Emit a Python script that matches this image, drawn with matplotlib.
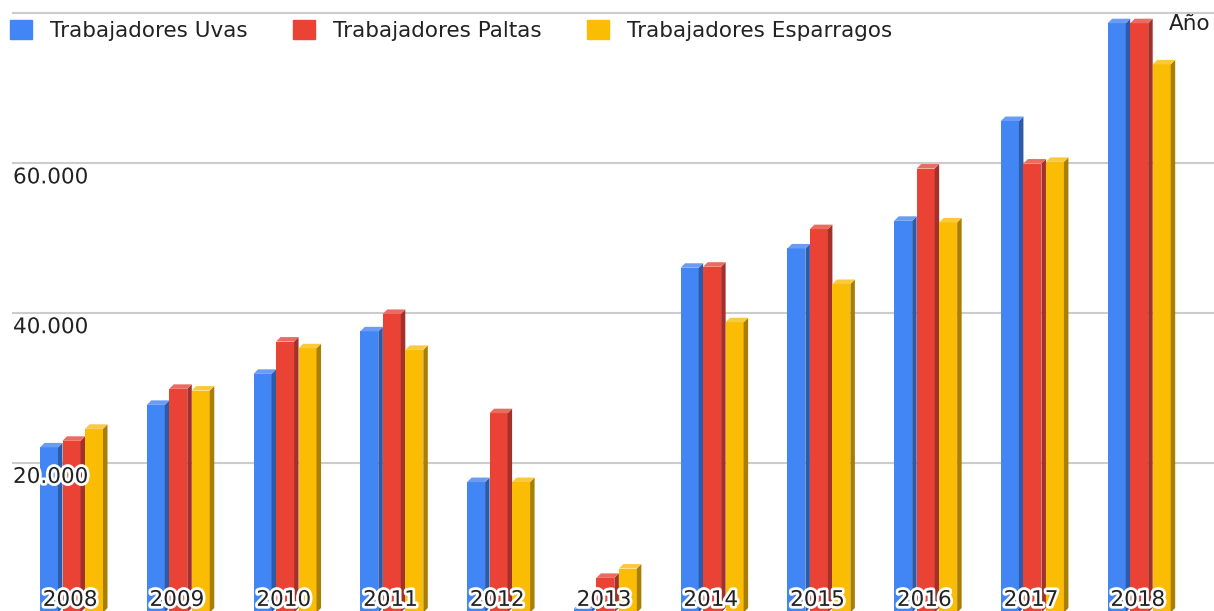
import matplotlib
matplotlib.use('Agg')
import matplotlib.pyplot as plt
from matplotlib.patches import Polygon, Patch
import matplotlib.patheffects as pe

# datos
years = ['2008', '2009', '2010', '2011', '2012', '2013', '2014', '2015', '2016', '2017', '2018']
uvas = [22050, 27730, 31870, 37550, 17420, 500, 46040, 48620, 52310, 65640, 78700]
paltas = [22930, 29870, 36180, 39870, 26620, 4620, 46180, 51200, 59290, 59960, 78700]
esparragos = [24530, 29640, 35290, 35070, 17420, 5870, 38760, 43870, 52090, 60180, 73200]
series_names = ['Trabajadores Uvas', 'Trabajadores Paltas', 'Trabajadores Esparragos']
y_ticks = [20000, 40000, 60000]
y_tick_labels = ['20.000', '40.000', '60.000']

front = ['#4285F4', '#EA4335', '#FBBC04']
side = ['#2E5BA8', '#A3302A', '#A87E05']
top = ['#6A9CF6', '#EE6A60', '#FCC93A']

FS = 15.5

fig = plt.figure(figsize=(12.14, 6.11), dpi=100)
ax = fig.add_axes([0, 0, 1, 1])
ax.set_xlim(-0.6697, 10.7006)
ax.set_ylim(200, 81800)
ax.axis('off')

px_x = 1 / 106.77       # one pixel in x data units
px_y = 81600 / 611      # one pixel in y data units
fw = 18 * px_x
step = 22.5 * px_x
dx = 4.5 * px_x
dy = 4.5 * px_y

# grid lines
for v in [20000, 40000, 60000, 80000]:
    ax.axhline(v, xmin=13 / 1214, xmax=1, color='#cccccc', lw=1.5, zorder=0)

for j, vals in enumerate([uvas, paltas, esparragos]):
    for i, v in enumerate(vals):
        x0 = i - 31.5 * px_x + j * step
        z = 2 + j
        ax.bar(x0, v, width=fw, align='edge', color=front[j], zorder=z, linewidth=0)
        ax.add_patch(Polygon([(x0 + fw, 0), (x0 + fw + dx, dy), (x0 + fw + dx, v + dy), (x0 + fw, v)],
                             closed=True, color=side[j], lw=0, zorder=z))
        ax.add_patch(Polygon([(x0, v), (x0 + dx, v + dy), (x0 + fw + dx, v + dy), (x0 + fw, v)],
                             closed=True, color=top[j], lw=0, zorder=z))

stroke = [pe.withStroke(linewidth=4, foreground='white')]

for v, lab in zip(y_ticks, y_tick_labels):
    ax.annotate(lab, xy=(13 / 1214, v), xycoords=('axes fraction', 'data'),
                xytext=(0, -3), textcoords='offset points', ha='left', va='top',
                fontsize=FS, color='#222222', path_effects=stroke, zorder=10)

for i, y in enumerate(years):
    ax.annotate(y, xy=(i, 0), xycoords=('data', 'axes fraction'),
                xytext=(-1, 8), textcoords='offset points', ha='center', va='center',
                fontsize=FS, color='#222222', path_effects=stroke, zorder=10)

ax.text(1169 / 1214, 1 - 24 / 611, 'Año', transform=ax.transAxes, ha='left', va='center',
        fontsize=FS, color='#222222', zorder=10)

handles = [Patch(facecolor=c, edgecolor=c) for c in front]
ax.legend(handles, series_names, ncol=3, loc='upper left', bbox_to_anchor=(10 / 1214, 1 - 20 / 611),
          frameon=False, fontsize=FS, handlelength=1.02, handleheight=0.95,
          handletextpad=0.84, columnspacing=2.1, borderaxespad=0, borderpad=0,
          labelcolor='#222222')

plt.savefig('out.png', dpi=100)
